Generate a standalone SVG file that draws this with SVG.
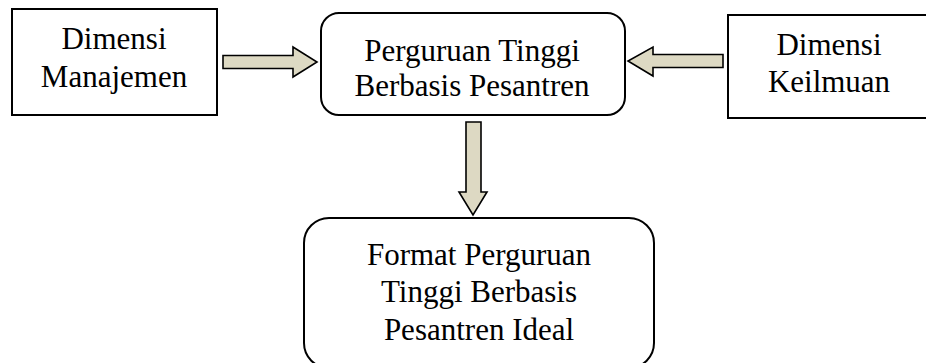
<svg xmlns="http://www.w3.org/2000/svg" width="926" height="363" viewBox="0 0 926 363">
<style>
.box{fill:#fff;stroke:#000;stroke-width:2}
.arr{fill:#DDD9C3;stroke:#000;stroke-width:1.6;stroke-linejoin:miter}
.t{font-family:'Liberation Serif',serif;font-size:31px;fill:#000;text-anchor:middle}
</style>
<rect width="926" height="363" fill="#fff"/>
<g id="dimensi-manajemen">
<rect class="box" x="12" y="9" width="205" height="106"/>
<text class="t" x="114" y="49" font-family="Liberation Serif, serif">Dimensi</text>
<text class="t" x="114" y="87" font-family="Liberation Serif, serif">Manajemen</text>
</g>
<g id="perguruan-tinggi">
<rect class="box" x="321" y="13" width="304" height="102" rx="18" ry="18"/>
<text class="t" x="472" y="61" font-family="Liberation Serif, serif">Perguruan Tinggi</text>
<text class="t" x="472" y="96" font-family="Liberation Serif, serif">Berbasis Pesantren</text>
</g>
<g id="dimensi-keilmuan">
<rect class="box" x="728" y="15" width="210" height="103"/>
<text class="t" x="829" y="55" font-family="Liberation Serif, serif">Dimensi</text>
<text class="t" x="829" y="92" font-family="Liberation Serif, serif">Keilmuan</text>
</g>
<g id="format-ideal">
<rect class="box" x="304" y="218" width="350" height="150" rx="25" ry="25"/>
<text class="t" x="479" y="265" font-family="Liberation Serif, serif">Format Perguruan</text>
<text class="t" x="479" y="302" font-family="Liberation Serif, serif">Tinggi Berbasis</text>
<text class="t" x="479" y="340" font-family="Liberation Serif, serif">Pesantren Ideal</text>
</g>
<g id="connectors">
<polygon class="arr" points="223,55.5 293,55.5 293,47 317,62 293,77 293,68.5 223,68.5"/>
<polygon class="arr" points="723,54.5 653,54.5 653,47 628,61 653,76 653,67.5 723,67.5"/>
<polygon class="arr" points="466,122 481,122 481,192 487,192 473,215 459,192 466,192"/>
</g>
</svg>
